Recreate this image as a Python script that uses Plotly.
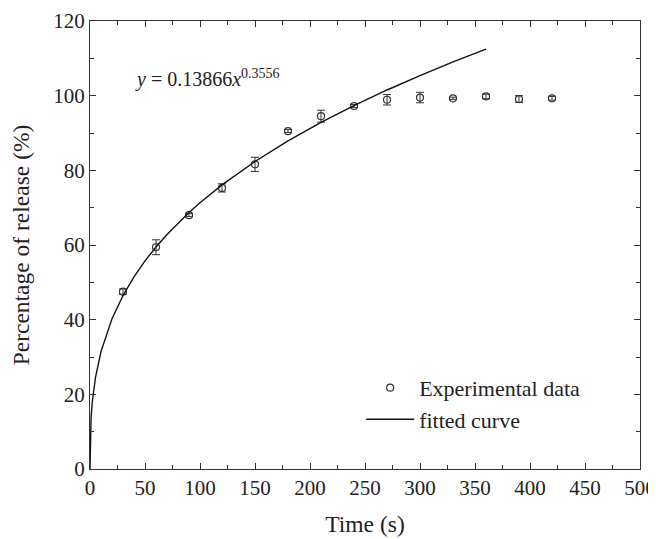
import plotly.graph_objects as go

# Experimental data
time_s = [30, 60, 90, 120, 150, 180, 210, 240, 270, 300, 330, 360, 390, 420]
release = [47.5, 59.4, 68.0, 75.3, 81.6, 90.5, 94.5, 97.2, 98.9, 99.5, 99.3, 99.8, 99.1, 99.3]
release_err = [0.7, 2.0, 0.4, 1.1, 1.9, 0.4, 1.6, 0.4, 1.4, 1.4, 0.3, 0.6, 0.9, 0.5]

# Fitted curve samples
fit_x = [0, 1, 2, 5, 10, 20, 30, 40, 50, 60, 70, 80, 90, 100, 120, 150, 180, 210, 240, 270, 300, 330, 360]
fit_y = [0, 13.87, 17.74, 24.57, 31.44, 40.23, 46.48, 51.48, 55.73, 59.46, 62.82, 65.87, 68.68,
         71.31, 76.09, 82.37, 87.88, 92.83, 97.35, 101.52, 105.39, 109.03, 112.45]

FONT = "Liberation Serif"

fig = go.Figure()
fig.add_trace(go.Scatter(
    x=time_s, y=release, mode="markers", name="Experimental data",
    marker=dict(symbol="circle-open", size=7, color="#333", line=dict(width=1.2, color="#333")),
    error_y=dict(type="data", array=release_err, visible=True, color="#333", thickness=1, width=4),
))
fig.add_trace(go.Scatter(
    x=fit_x, y=fit_y, mode="lines", name="fitted curve",
    line=dict(color="#111", width=1.4),
))

fig.add_annotation(
    x=39, y=104.5, xref="x", yref="y", xanchor="left", yanchor="middle", showarrow=False,
    text="<i>y</i> = 0.13866<i>x</i><sup>0.3556</sup>",
    font=dict(family=FONT, size=20, color="#222"),
)

axis_common = dict(
    showline=True, linecolor="#333", linewidth=1.2, mirror="allticks",
    ticks="inside", ticklen=6, tickcolor="#333", showgrid=False, zeroline=False,
    tickfont=dict(family=FONT, size=21, color="#222"), automargin=False,
)

fig.update_xaxes(
    range=[0, 500], tickvals=[0, 50, 100, 150, 200, 250, 300, 350, 400, 450, 500],
    minor=dict(ticks="inside", dtick=25, tick0=0, ticklen=4, tickcolor="#333"),
    title=dict(text="Time (s)", font=dict(family=FONT, size=23.5, color="#222"), standoff=16),
    **axis_common,
)
fig.update_yaxes(
    range=[0, 120], tickvals=[0, 20, 40, 60, 80, 100, 120],
    minor=dict(ticks="inside", dtick=10, tick0=0, ticklen=4, tickcolor="#333"),
    title=dict(text="Percentage of release (%)", font=dict(family=FONT, size=23.5, color="#222"), standoff=18),
    **axis_common,
)

fig.update_layout(
    width=648, height=531,
    margin=dict(l=82, r=16, t=13, b=70),
    plot_bgcolor="white", paper_bgcolor="white",
    font=dict(family=FONT, color="#222"),
    legend=dict(
        x=0.493, y=0.228, xanchor="left", yanchor="top",
        font=dict(family=FONT, size=22, color="#222"),
        bgcolor="rgba(0,0,0,0)", tracegroupgap=0, itemwidth=48,
    ),
)

fig.write_html("out.html")
